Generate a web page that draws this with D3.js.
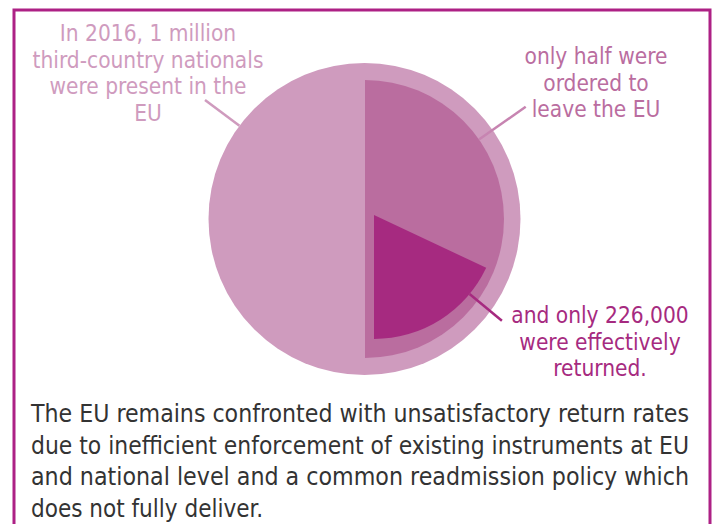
<!DOCTYPE html>
<html>
<head>
<meta charset="utf-8">
<script src="https://cdn.jsdelivr.net/npm/d3@7"></script>
<style>
  html, body { margin: 0; padding: 0; background: #fff; }
  svg { display: block; }
</style>
</head>
<body>
<svg id="chart" width="717" height="524"></svg>
<script>
// data
const segments = ["present in the EU", "ordered to leave", "effectively returned"];
const shares = [1, 0.5, 0.18];            // share of the full circle, as drawn
const segmentColors = ["#cf9bbe", "#ba6d9f", "#a62a80"];

const labelLines = [
    ["In 2016, 1 million", "third-country nationals", "were present in the", "EU"],
    ["only half were", "ordered to", "leave the EU"],
    ["and only 226,000", "were effectively", "returned."]
];

const bodyLines = [
    "The EU remains confronted with unsatisfactory return rates",
    "due to inefficient enforcement of existing instruments at EU",
    "and national level and a common readmission policy which",
    "does not fully deliver."
];

let svg = d3.select("#chart");
let width = 717;
let height = 524;

svg.append("rect")
   .attr("width", width)
   .attr("height", height)
   .attr("fill", "#fff");

// frame, open at the bottom
svg.append("path")
   .attr("d", "M 14 524 L 14 10 L 710 10 L 710 524")
   .attr("fill", "none")
   .attr("stroke", "#ad2185")
   .attr("stroke-width", 3);

// angle scale: share of circle -> radians
let angle = d3.scaleLinear().domain([0, 1]).range([0, 2 * Math.PI]);
let radius = d3.scaleOrdinal().domain(segments).range([156, 139, 124]);

// centers: the small wedge is pulled slightly off the middle
let centers = [[364.5, 219], [365, 219], [374, 215]];

let arc = d3.arc().innerRadius(0);

let slices = segments.map(function(s, i) {
    let start, end;
    if (i === 2) {
        // the returned part ends at the bottom of the half
        end = angle(shares[1]);
        start = end - angle(shares[i]);
    } else {
        start = 0;
        end = angle(shares[i]);
    }
    return {name: s, startAngle: start, endAngle: end, outerRadius: radius(s), c: centers[i], color: segmentColors[i]};
});

let pie = svg.append("g").attr("id", "pie");
pie.selectAll("path")
   .data(slices)
   .enter().append("path")
   .attr("transform", d => "translate(" + d.c[0] + "," + d.c[1] + ")")
   .attr("d", d => arc(d))
   .attr("fill", d => d.color);

// leader lines from each slice edge out to the label
function edgePoint(d, a, extra) {
    let r = d.outerRadius + extra;
    return [d.c[0] + r * Math.sin(a), d.c[1] - r * Math.cos(a)];
}
let leaders = [
    {from: edgePoint(slices[0], angle(-0.148), 0), to: edgePoint(slices[0], angle(-0.148), 43), color: "#cf9bbe"},
    {from: edgePoint(slices[1], angle(0.153), 0), to: edgePoint(slices[1], angle(0.153), 57), color: "#c784b1"},
    {from: edgePoint(slices[2], angle(0.36), 0), to: edgePoint(slices[2], angle(0.36), 42), color: "#a62a80"}
];
svg.append("g").selectAll("line")
   .data(leaders)
   .enter().append("line")
   .attr("x1", d => d.from[0]).attr("y1", d => d.from[1])
   .attr("x2", d => d.to[0]).attr("y2", d => d.to[1])
   .attr("stroke", d => d.color)
   .attr("stroke-width", 2.5);

// labels
let labelFont = "'DejaVu Sans Condensed', 'DejaVu Sans', sans-serif";
let labelPos = [[148, 41], [596, 64], [600, 323]];
let labelColors = ["#cf9bbe", "#ba6d9f", "#a62a80"];
labelLines.forEach(function(lines, i) {
    let t = svg.append("text")
               .attr("font-family", labelFont)
               .attr("font-size", 22.5)
               .attr("fill", labelColors[i])
               .attr("text-anchor", "middle");
    lines.forEach(function(line, j) {
        t.append("tspan")
         .attr("x", labelPos[i][0])
         .attr("y", labelPos[i][1] + j * 26.5)
         .text(line);
    });
});

// body paragraph, first lines justified
let body = svg.append("g");
bodyLines.forEach(function(line, j) {
    let t = body.append("text")
        .attr("x", 31)
        .attr("y", 422 + j * 31.5)
        .attr("font-family", labelFont)
        .attr("font-size", 24)
        .attr("fill", "#333")
        .text(line);
    if (j < bodyLines.length - 1) {
        t.attr("textLength", 658).attr("lengthAdjust", "spacingAndGlyphs");
    }
});
</script>
</body>
</html>
